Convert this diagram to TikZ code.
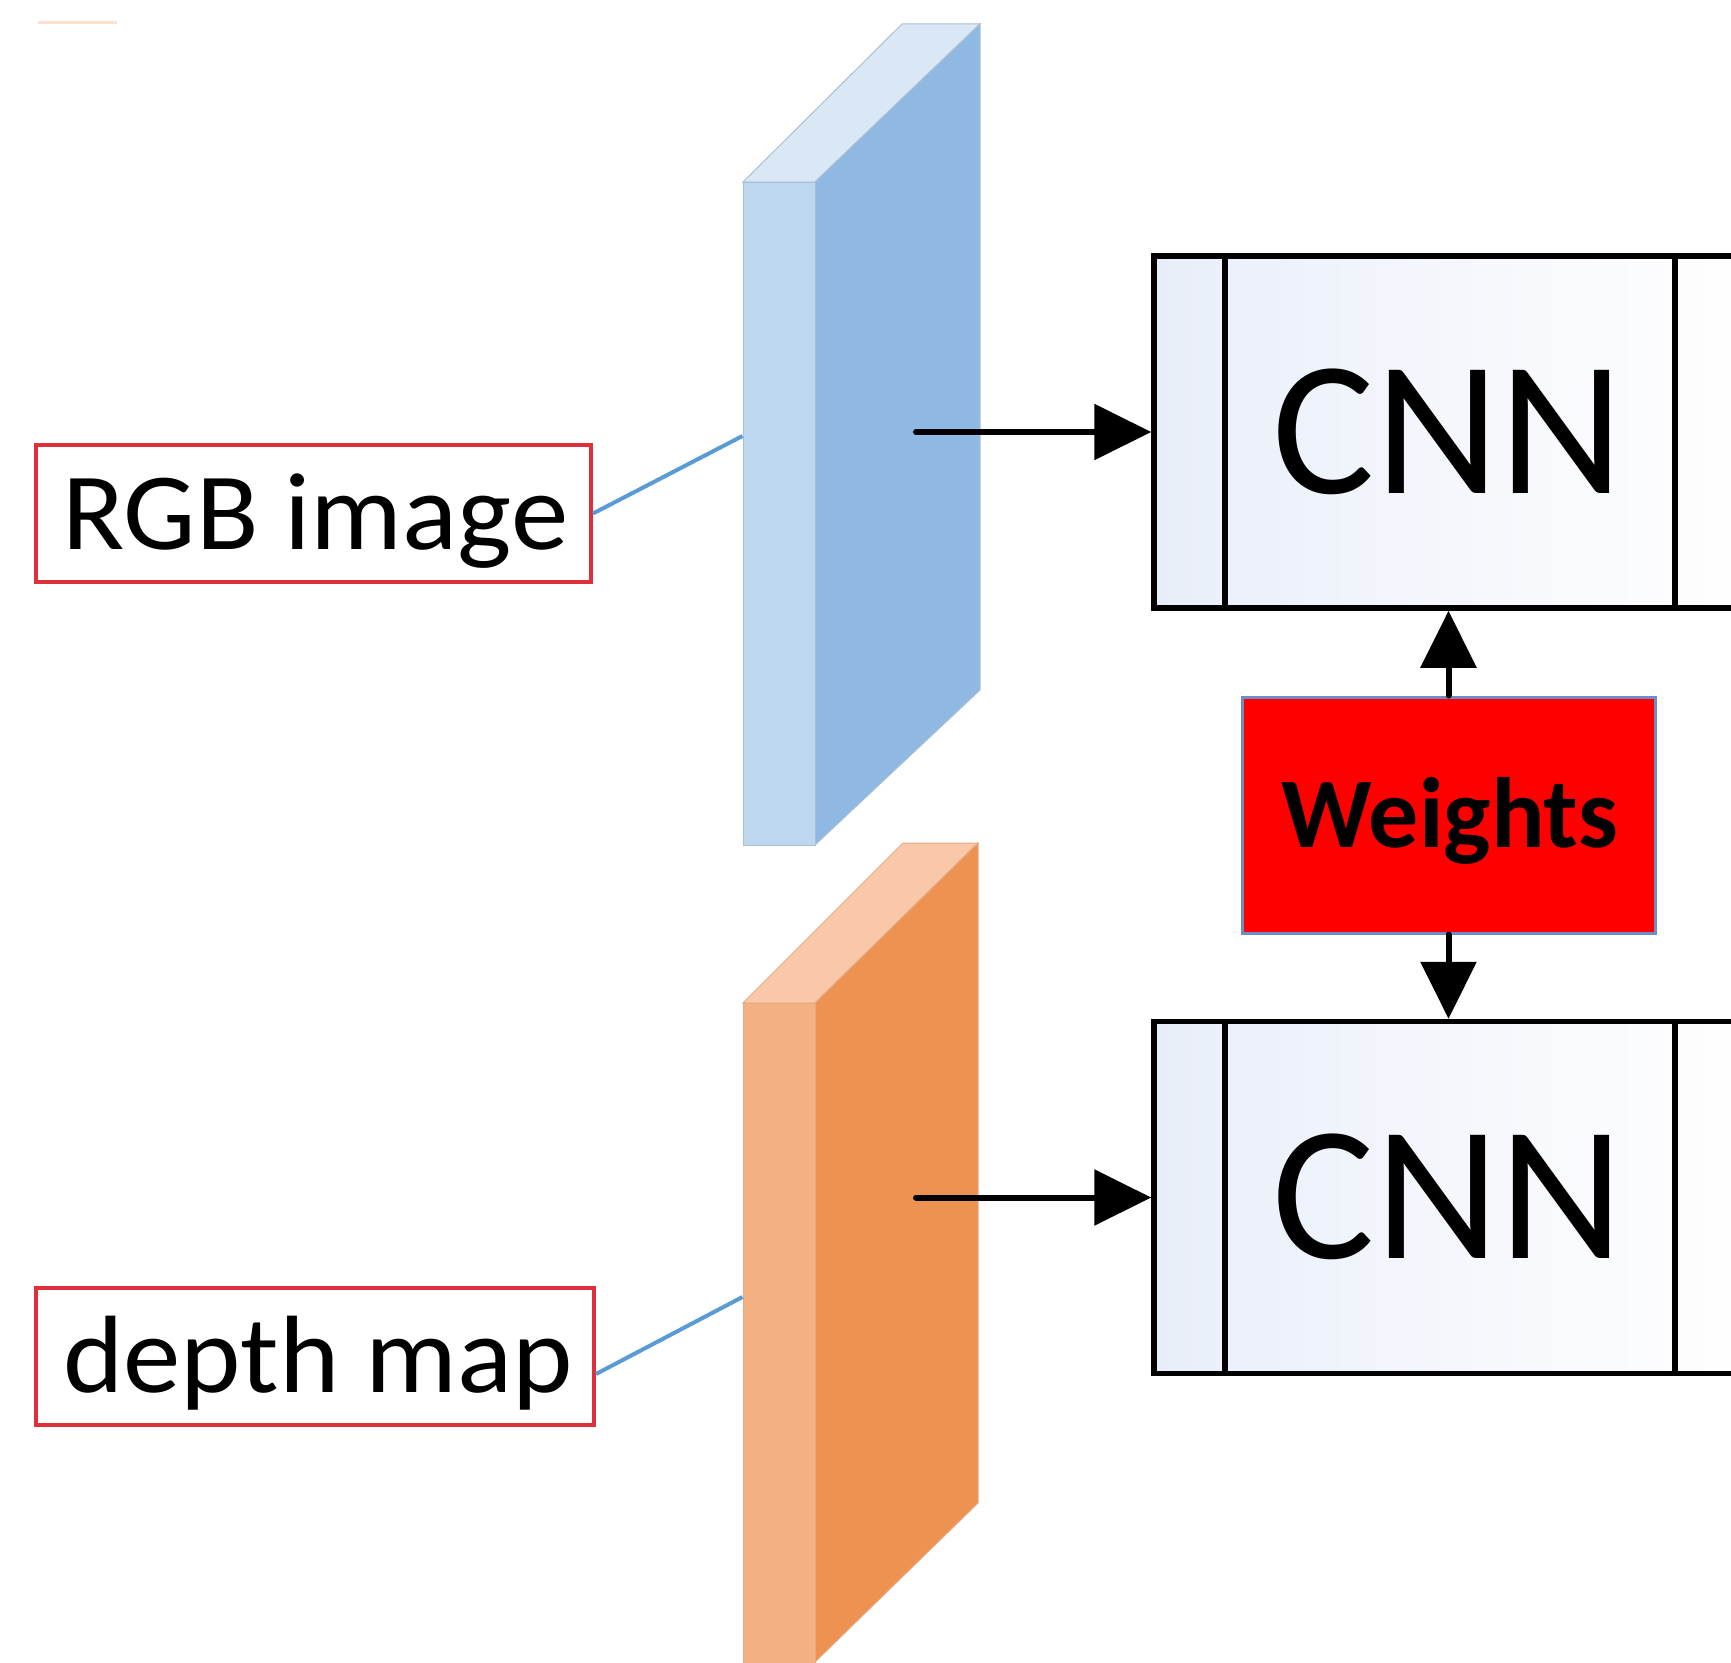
\documentclass[tikz,border=0pt]{standalone}
\usepackage{fontspec}
\setmainfont{Carlito}
\newfontfamily\labelfont[FakeStretch=1.045]{Carlito}
\usetikzlibrary{arrows.meta,calc}

\definecolor{blueFront}{RGB}{189,215,238}
\definecolor{blueSide}{RGB}{143,185,226}
\definecolor{blueTop}{RGB}{218,232,245}
\definecolor{blueEdge}{RGB}{170,190,212}
\definecolor{orangeFront}{RGB}{243,176,128}
\definecolor{orangeSide}{RGB}{238,146,82}
\definecolor{orangeTop}{RGB}{248,200,168}
\definecolor{orangeEdge}{RGB}{226,170,135}
\definecolor{labelRed}{RGB}{222,48,58}
\definecolor{leaderBlue}{RGB}{91,155,213}
\definecolor{cellTint}{RGB}{232,238,249}
\definecolor{cellMid}{RGB}{245,247,252}
\definecolor{weightEdge}{RGB}{110,140,200}
\definecolor{ghost}{RGB}{252,226,206}

\begin{document}
\begin{tikzpicture}[x=1pt,y=-1pt,
  labelbox/.style={draw=labelRed, line width=4pt, fill=white, inner sep=0pt,
    minimum height=137pt},
  leader/.style={draw=leaderBlue, line width=4pt},
  slabface/.style={inner sep=0pt, draw, line width=1pt},
  cnnbox/.style={draw=black, line width=5.5pt, inner sep=0pt,
    minimum width=606pt, minimum height=352pt,
    left color=cellTint, right color=white, middle color=cellMid},
  divider/.style={draw=black, line width=5.5pt},
  flow/.style={draw=black, line width=6pt, line cap=round,
    -{Triangle[length=57pt,width=55pt]}},
  weightbox/.style={draw=weightEdge, line width=3pt, fill=red,
    minimum width=413pt, minimum height=236pt, inner sep=0pt},
]
\useasboundingbox (0,0) rectangle (1731,1662);
\clip (0,0) rectangle (1731,1662);

% faint mark in the upper left corner
\draw[ghost, line width=3pt] (38,23) -- (117,23);

% ---- blue input slab (RGB image) ----
\fill[blueTop, draw=blueEdge, line width=1pt]
  (743,182) -- (815,182) -- (980,24) -- (902,24) -- cycle;
\fill[blueSide, draw=blueEdge, line width=1pt]
  (815,182) -- (980,24) -- (980,690) -- (815,845) -- cycle;
\node[slabface, fill=blueFront, draw=blueEdge,
  minimum width=72pt, minimum height=663pt] (rgbslab) at (779,513.5) {};

% ---- orange input slab (depth map) ----
\fill[orangeTop, draw=orangeEdge, line width=1pt]
  (743,1003) -- (815,1003) -- (978,843) -- (903,843) -- cycle;
\fill[orangeSide, draw=orangeEdge, line width=1pt]
  (815,1003) -- (978,843) -- (978,1503) -- (815,1662) -- cycle;
\node[slabface, fill=orangeFront, draw=orangeEdge,
  minimum width=72pt, minimum height=700pt] (depthslab) at (779,1353) {};

% ---- labels ----
\node[labelbox, minimum width=555pt] (rgblabel) at (313.5,513.5) {};
\node[anchor=base west, inner sep=0pt, font=\labelfont\fontsize{110}{120}\selectfont]
  (rgbtext) at (62,549) {RGB image};
\node[labelbox, minimum width=558pt] (depthlabel) at (315,1356.5) {};
\node[anchor=base west, inner sep=0pt, font=\labelfont\fontsize{110}{120}\selectfont]
  (depthtext) at (63,1392) {depth map};

\draw[leader] (rgblabel.east) -- ($(rgbslab.west)+(0,-77.5)$);
\draw[leader] ($(depthlabel.east)+(0,17.5)$) -- ($(depthslab.west)+(0,-56)$);

% ---- CNN branches ----
\node[cnnbox] (cnnA) at (1457,432) {};
\draw[divider] (1225,256) -- (1225,608);
\draw[divider] (1675,256) -- (1675,608);
\node[inner sep=0pt, anchor=base, font=\fontsize{192}{200}\selectfont]
  (cnnAtext) at (1448,493) {CNN};

\node[cnnbox] (cnnB) at (1457,1197.5) {};
\draw[divider] (1225,1021) -- (1225,1374);
\draw[divider] (1675,1021) -- (1675,1374);
\node[inner sep=0pt, anchor=base, font=\fontsize{192}{200}\selectfont]
  (cnnBtext) at (1448,1258) {CNN};

% ---- shared weights ----
\node[weightbox] (weights) at (1448.5,815) {};
\node[inner sep=0pt, anchor=base, font=\bfseries\fontsize{100}{110}\selectfont]
  (weightstext) at (1450,847) {Weights};

% ---- connectors ----
\coordinate (rgbout) at (916,432);
\coordinate (depthout) at (916,1197.5);
\draw[flow] (rgbout) -- (cnnA.west);
\draw[flow] (depthout) -- (cnnB.west);
\draw[flow] (weights.north) -- (weights.north |- cnnA.south);
\draw[flow] (weights.south) -- (weights.south |- cnnB.north);
\end{tikzpicture}
\end{document}
